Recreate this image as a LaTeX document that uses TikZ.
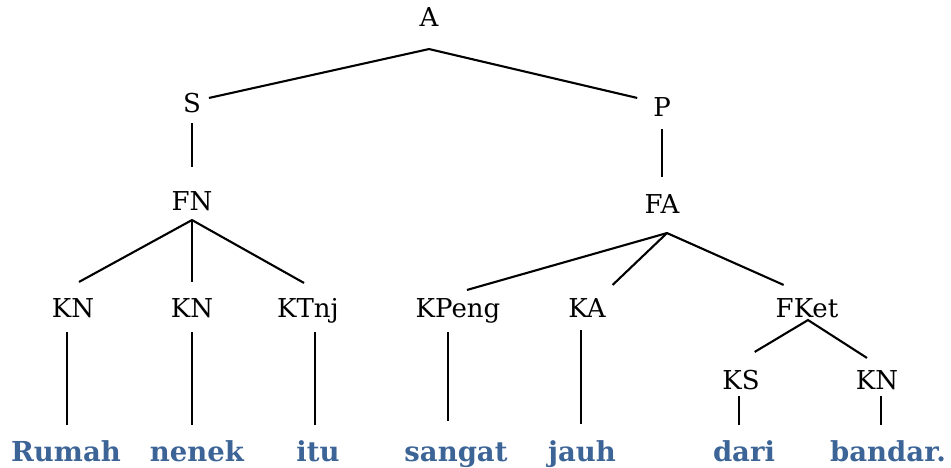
\documentclass[tikz,border=0pt]{standalone}
\usepackage{fontspec}
\setmainfont{DejaVu Serif}
\usepackage{tikz}
\definecolor{wordblue}{HTML}{3C6496}

\begin{document}
\begin{tikzpicture}[x=1pt, y=-1pt, line width=2.1pt,
    cat/.style={font=\fontsize{26}{30}\selectfont, inner sep=0pt,
      text height=19pt, text depth=0pt, anchor=base},
    word/.style={font=\bfseries\fontsize{27.5}{30}\selectfont, text=wordblue,
      inner sep=0pt, text height=19pt, text depth=0pt, anchor=base}]
   \useasboundingbox (0,0) rectangle (951,468);

   % labels
   \node[cat] (A) at (429,27) {A};
   \node[cat] (S) at (192,113) {S};
   \node[cat] (P) at (662,117) {P};
   \node[cat] (FN) at (192,211) {FN};
   \node[cat] (FA) at (662,214) {FA};
   \node[cat] (KNa) at (73,317) {KN};
   \node[cat] (KNb) at (192,317) {KN};
   \node[cat] (KTnj) at (308,317) {KTnj};
   \node[cat] (KPeng) at (458,317) {KPeng};
   \node[cat] (KA) at (587,317) {KA};
   \node[cat] (FKet) at (807,317) {FKet};
   \node[cat] (KS) at (741,389) {KS};
   \node[cat] (KNc) at (877,389) {KN};

   % words
   \node[word] (Rumah) at (66,461) {Rumah};
   \node[word] (nenek) at (197,461) {nenek};
   \node[word] (itu) at (318,461) {itu};
   \node[word] (sangat) at (456,461) {sangat};
   \node[word] (jauh) at (582,461) {jauh};
   \node[word] (dari) at (744,461) {dari};
   \node[word] (bandar) at (888,461) {bandar.};

   % branches
   \draw ([xshift=7pt,yshift=-5pt]S.north east) -- ([yshift=-21pt]A.south)
      -- ([xshift=-15pt,yshift=-1pt]P.north west);
   \draw ([yshift=-9pt]S.south) -- ([yshift=24pt]FN.north);
   \draw ([yshift=-11pt]P.south) -- ([yshift=17pt]FA.north);

   \draw ([xshift=6pt,yshift=15pt]KNa.north) -- ([yshift=-8pt]FN.south)
      -- ([xshift=-4pt,yshift=14pt]KTnj.north);
   \draw ([yshift=-8pt]FN.south) -- ([yshift=15pt]KNb.north);

   \draw ([xshift=9pt,yshift=7pt]KPeng.north) -- ([xshift=5pt,yshift=-18pt]FA.south)
      -- ([xshift=9pt,yshift=12pt]FKet.north west);
   \draw ([xshift=5pt,yshift=-18pt]FA.south) -- ([xshift=6pt,yshift=12pt]KA.north east);

   \draw ([xshift=-6pt,yshift=17pt]KS.north east) -- ([xshift=1pt,yshift=-2pt]FKet.south)
      -- ([xshift=-10pt,yshift=11pt]KNc.north);

   % stems down to the words
   \draw ([xshift=-6pt,yshift=-14pt]KNa.south) -- ([xshift=-6pt,yshift=16pt]KNa.south |- Rumah.north);
   \draw ([yshift=-14pt]KNb.south) -- ([yshift=16pt]KNb.south |- nenek.north);
   \draw ([xshift=7pt,yshift=-14pt]KTnj.south) -- ([xshift=7pt,yshift=16pt]KTnj.south |- itu.north);
   \draw ([xshift=-10pt,yshift=-14pt]KPeng.south) -- ([xshift=-10pt,yshift=20pt]KPeng.south |- sangat.north);
   \draw ([xshift=-6pt,yshift=-12pt]KA.south) -- ([xshift=-6pt,yshift=17pt]KA.south |- jauh.north);
   \draw ([xshift=-2pt,yshift=-6pt]KS.south) -- ([xshift=-2pt,yshift=16pt]KS.south |- dari.north);
   \draw ([xshift=4pt,yshift=-6pt]KNc.south) -- ([xshift=4pt,yshift=16pt]KNc.south |- bandar.north);
\end{tikzpicture}
\end{document}
